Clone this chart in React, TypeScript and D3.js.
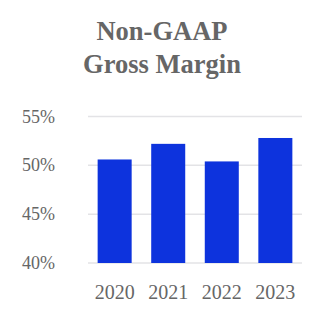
import React from "react";
import * as d3 from "d3";

const years = ["2020", "2021", "2022", "2023"];
const margins = [50.6, 52.2, 50.4, 52.8];
const yTicks = [40, 45, 50, 55];
const titleLines = ["Non-GAAP", "Gross Margin"];

export default function App() {
  const W = 326, H = 326;
  const x = d3.scaleBand<string>().domain(years).range([88, 302]).paddingInner(0.365).paddingOuter(0.18);
  const y = d3.scaleLinear().domain([40, 55]).range([263, 116.5]);
  const font = "'Liberation Serif', 'Times New Roman', serif";
  return (
    <svg width={W} height={H} style={{ position: "absolute", left: 0, top: 0, background: "#fff" }}>
      {titleLines.map((t, i) => (
        <text key={t} x={162} y={40 + i * 33} textAnchor="middle" fontFamily={font} fontWeight="bold" fontSize={26.5} fill="#666">
          {t}
        </text>
      ))}
      {yTicks.map((v) => (
        <g key={v}>
          <line x1={88} x2={302} y1={y(v)} y2={y(v)} stroke="#e3e3e6" strokeWidth={1.5} />
          <text x={55} y={y(v) + 6} textAnchor="end" fontFamily={font} fontSize={18} fill="#666">
            {v}%
          </text>
        </g>
      ))}
      {years.map((yr, i) => (
        <rect key={yr} x={x(yr)} y={y(margins[i])} width={x.bandwidth()} height={y(40) - y(margins[i])} fill="#0d33dd" />
      ))}
      {years.map((yr) => (
        <text key={yr} x={(x(yr) as number) + x.bandwidth() / 2} y={299} textAnchor="middle" fontFamily={font} fontSize={20} fill="#666">
          {yr}
        </text>
      ))}
    </svg>
  );
}
